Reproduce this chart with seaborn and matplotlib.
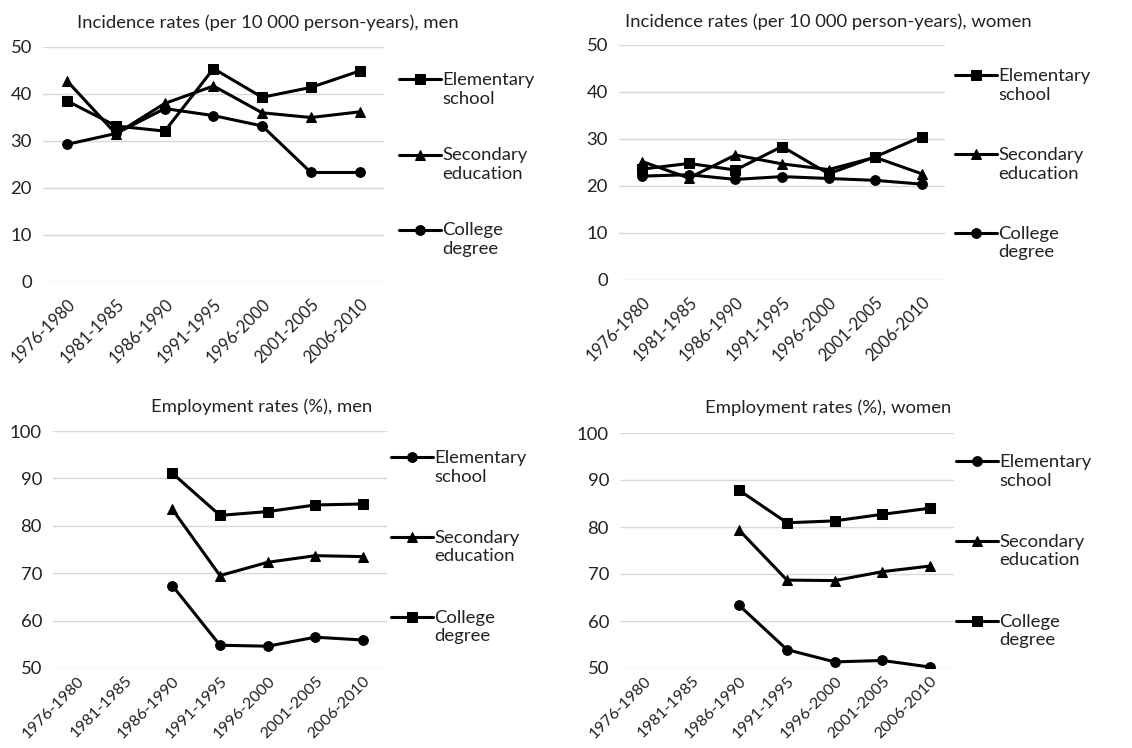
import numpy as np
import pandas as pd
import matplotlib
matplotlib.use("Agg")
import matplotlib.pyplot as plt
import seaborn as sns

periods = ["1976-1980", "1981-1985", "1986-1990", "1991-1995", "1996-2000", "2001-2005", "2006-2010"]
levels = ["Elementary school", "Secondary education", "College degree"]

inc_men_elem = [38.5, 33.2, 32.1, 45.4, 39.3, 41.4, 44.9]
inc_men_sec = [42.7, 31.5, 38.0, 41.7, 36.0, 35.0, 36.2]
inc_men_col = [29.3, 31.6, 36.9, 35.4, 33.2, 23.3, 23.3]

inc_wom_elem = [23.6, 24.8, 23.4, 28.4, 22.6, 26.2, 30.5]
inc_wom_sec = [25.2, 21.7, 26.6, 24.7, 23.5, 26.1, 22.6]
inc_wom_col = [22.1, 22.4, 21.4, 22.0, 21.6, 21.2, 20.4]

emp_men_elem = [np.nan, np.nan, 67.4, 54.8, 54.6, 56.5, 55.9]
emp_men_sec = [np.nan, np.nan, 83.5, 69.5, 72.3, 73.7, 73.5]
emp_men_col = [np.nan, np.nan, 91.1, 82.2, 83.0, 84.4, 84.6]

emp_wom_elem = [np.nan, np.nan, 63.3, 53.9, 51.3, 51.6, 50.2]
emp_wom_sec = [np.nan, np.nan, 79.3, 68.7, 68.6, 70.5, 71.7]
emp_wom_col = [np.nan, np.nan, 87.8, 80.9, 81.3, 82.7, 84.0]

sns.set_theme(style="white")
plt.rcParams['font.family'] = ['Lato', 'DejaVu Sans']

FS = 13.3
TFS = 12.0
fig = plt.figure(figsize=(11.32, 7.48), dpi=100)

def make_df(e, s, c):
    rows = []
    for lvl, vals in zip(levels, [e, s, c]):
        for i, v in enumerate(vals):
            rows.append({"pos": i, "level": lvl, "value": v})
    return pd.DataFrame(rows)

panels = [
    dict(rect=[43/1132, 1-282/748, (384-43)/1132, (282-47)/748],
         data=(inc_men_elem, inc_men_sec, inc_men_col),
         markers={"Elementary school": "s", "Secondary education": "^", "College degree": "o"},
         ylim=(0, 50), yticks=[0, 10, 20, 30, 40, 50],
         title="Incidence rates (per 10 000 person-years), men", tpos=(268/1132, 1-23/748),
         leg=(399/1132, 1-72/748), ls=2.2, xpad=10, xfs=TFS),
    dict(rect=[619/1132, 1-280/748, (945-619)/1132, (280-45)/748],
         data=(inc_wom_elem, inc_wom_sec, inc_wom_col),
         markers={"Elementary school": "s", "Secondary education": "^", "College degree": "o"},
         ylim=(0, 50), yticks=[0, 10, 20, 30, 40, 50],
         title="Incidence rates (per 10 000 person-years), women", tpos=(828/1132, 1-22/748),
         leg=(955/1132, 1-68/748), ls=2.4, xpad=10, xfs=TFS),
    dict(rect=[53/1132, 1-668/748, (387-53)/1132, (668-431)/748],
         data=(emp_men_elem, emp_men_sec, emp_men_col),
         markers={"Elementary school": "o", "Secondary education": "^", "College degree": "s"},
         ylim=(50, 100), yticks=[50, 60, 70, 80, 90, 100],
         title="Employment rates (%), men", tpos=(262/1132, 1-407/748),
         leg=(391/1132, 1-450/748), ls=2.45, xpad=4, xfs=11.6),
    dict(rect=[620/1132, 1-668/748, (954-620)/1132, (668-433)/748],
         data=(emp_wom_elem, emp_wom_sec, emp_wom_col),
         markers={"Elementary school": "o", "Secondary education": "^", "College degree": "s"},
         ylim=(50, 100), yticks=[50, 60, 70, 80, 90, 100],
         title="Employment rates (%), women", tpos=(828/1132, 1-408/748),
         leg=(956/1132, 1-454/748), ls=2.45, xpad=4, xfs=11.6),
]

label_map = {"Elementary school": "Elementary\nschool",
             "Secondary education": "Secondary\neducation",
             "College degree": "College\ndegree"}

for p in panels:
    ax = fig.add_axes(p["rect"])
    df = make_df(*p["data"])
    sns.lineplot(data=df, x="pos", y="value", hue="level", style="level",
                 hue_order=levels, style_order=levels,
                 palette=["black"] * 3, markers=p["markers"], dashes=False,
                 linewidth=2.2, markersize=7, markeredgecolor="black",
                 ax=ax, legend=True)
    ax.set_xlim(-0.5, 6.5)
    ax.set_ylim(*p["ylim"])
    ax.set_yticks(p["yticks"])
    ax.set_xticks(range(len(periods)))
    ax.set_xticklabels(periods, rotation=45, ha="right", rotation_mode="anchor")
    ax.tick_params(axis="y", labelsize=FS, colors="#222222", length=0, pad=8)
    ax.tick_params(axis="x", labelsize=p["xfs"], colors="#222222", length=0, pad=p["xpad"])
    ax.yaxis.grid(True, color="#d9d9d9", linewidth=1)
    ax.xaxis.grid(False)
    for s in ax.spines.values():
        s.set_visible(False)
    ax.set_xlabel("")
    ax.set_ylabel("")
    handles, labels = ax.get_legend_handles_labels()
    leg = ax.legend(handles, [label_map[l] for l in labels],
                    loc="upper left", bbox_to_anchor=p["leg"], bbox_transform=fig.transFigure,
                    frameon=False, fontsize=FS, handlelength=2.3, handletextpad=0.05,
                    handleheight=1.0, labelspacing=p["ls"], borderpad=0, borderaxespad=0)
    for t in leg.get_texts():
        t.set_color("#222222")
    # align each handle with the first line of its two-line label
    for col in leg._legend_handle_box.get_children():
        for row in col.get_children():
            row.align = "top"
    fig.text(p["tpos"][0], p["tpos"][1], p["title"], ha="center", va="center",
             fontsize=FS, color="#222222")

fig.savefig("out.png", dpi=100)
